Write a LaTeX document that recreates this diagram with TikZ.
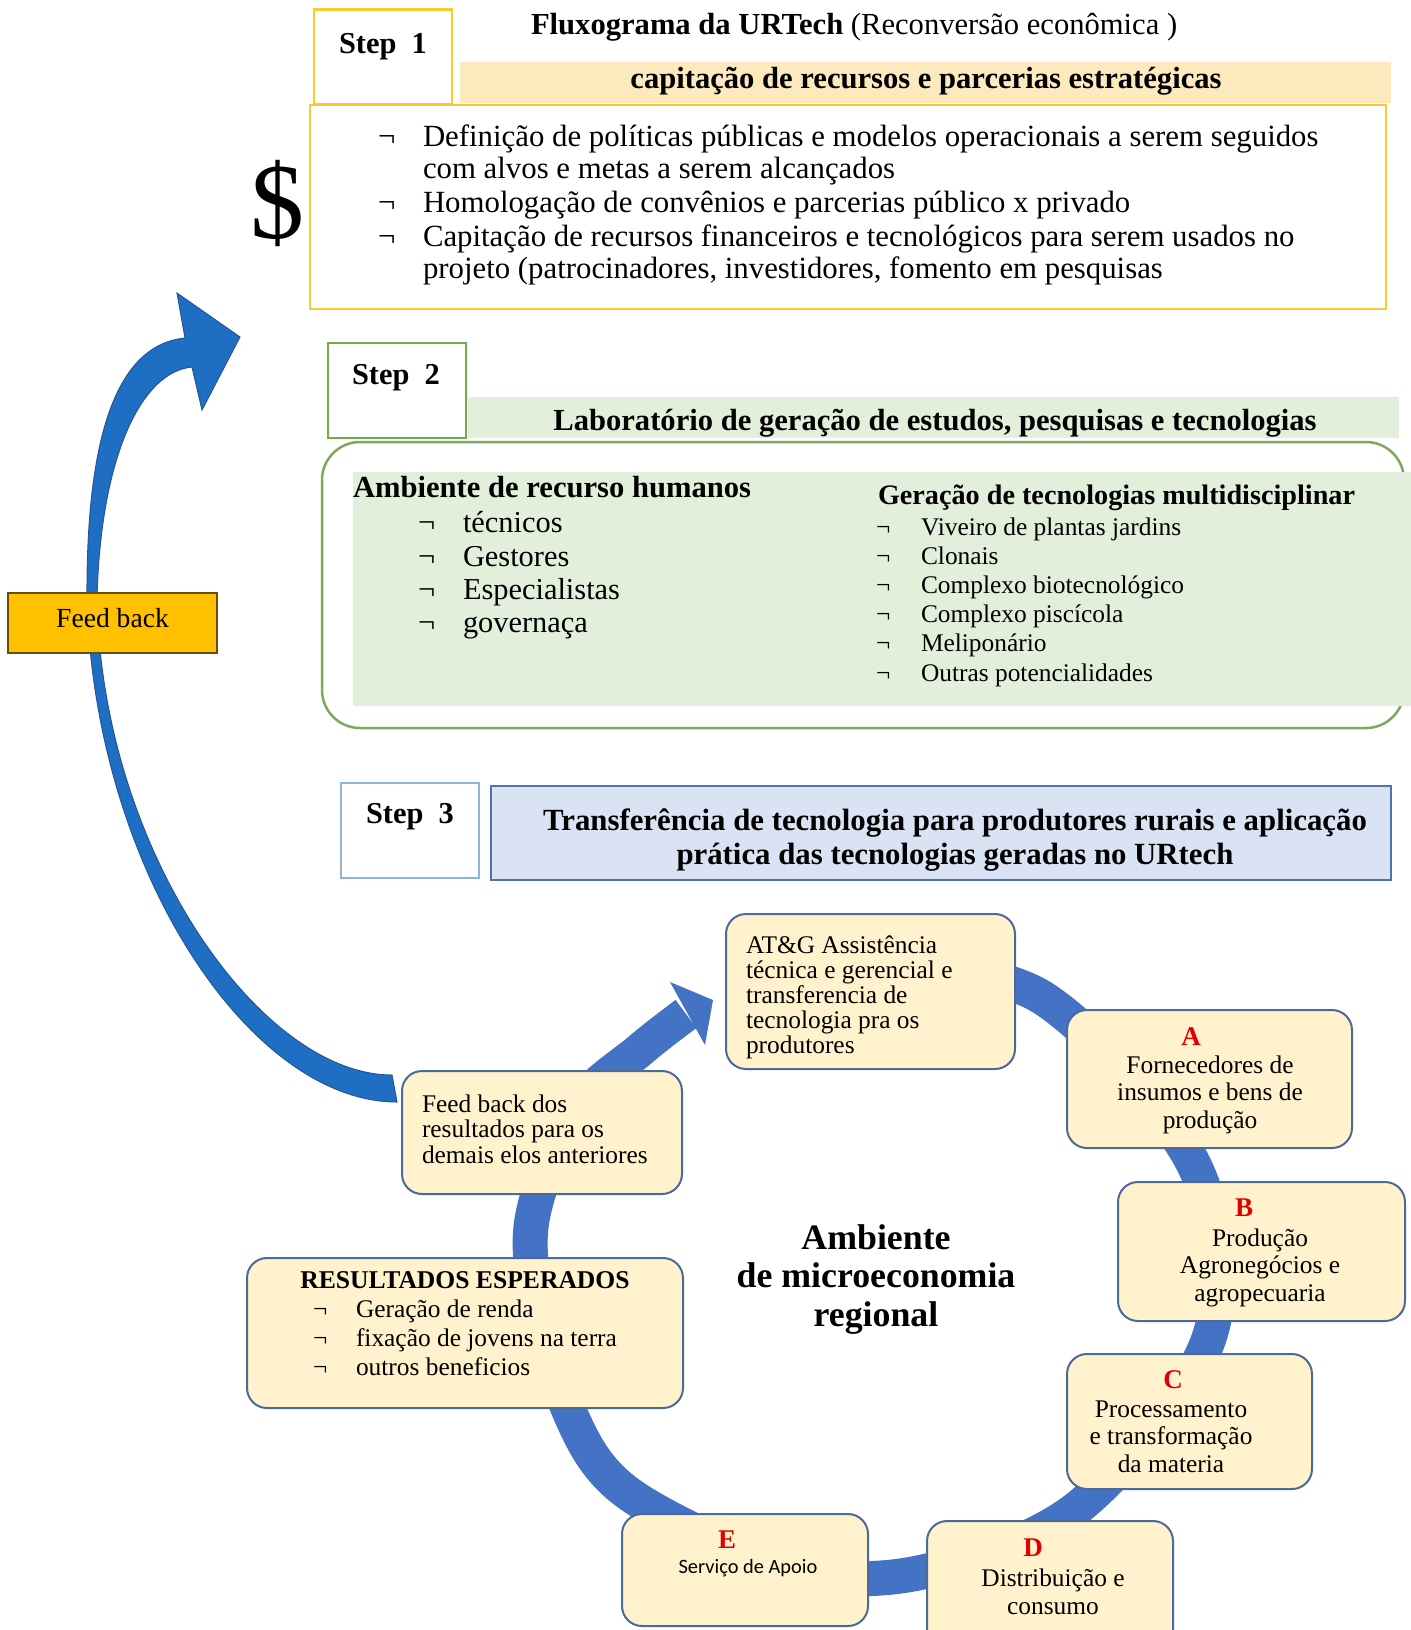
\documentclass[tikz,border=0pt]{standalone}
\usepackage{fontspec}
\setmainfont{Liberation Serif}
\newfontfamily\apoiofont{Carlito}
\usepackage{tikz}
\definecolor{stepyellow}{RGB}{255,200,50}
\definecolor{bandpeach}{RGB}{252,233,190}
\definecolor{stepgreen}{RGB}{112,173,71}
\definecolor{outlinegreen}{RGB}{125,168,95}
\definecolor{lightgreen}{RGB}{226,239,218}
\definecolor{stepblue}{RGB}{143,180,220}
\definecolor{bandblue}{RGB}{218,227,243}
\definecolor{bandedge}{RGB}{79,114,181}
\definecolor{ringblue}{RGB}{68,114,196}
\definecolor{cyclefill}{RGB}{255,242,204}
\definecolor{cycleedge}{RGB}{74,106,152}
\definecolor{fbblue}{RGB}{30,110,195}
\definecolor{fbedge}{RGB}{40,85,150}
\definecolor{labelorange}{RGB}{255,192,0}
\definecolor{labeledge}{RGB}{100,80,10}
\definecolor{letterred}{RGB}{225,0,0}

\begin{document}
\begin{tikzpicture}[x=0.5pt,y=-0.5pt,every node/.style={inner sep=0pt,outer sep=0pt},
  stepbox/.style={draw=#1,line width=1.25pt,fill=white,minimum width=69pt,minimum height=47.5pt},
  steplbl/.style={font=\fontsize{15.2}{18}\selectfont\bfseries,anchor=base west},
  band/.style={fill=#1,minimum width=465.5pt,minimum height=20.5pt},
  head/.style={font=\fontsize{15.3}{18}\selectfont\bfseries,anchor=base},
  txt/.style={font=\fontsize{15.4}{16}\selectfont,align=left,anchor=base west},
  bullet/.style={anchor=base west},
  cyclebox/.style={draw=cycleedge,line width=1pt,fill=cyclefill,rounded corners=10pt},
  cycletxt/.style={font=\fontsize{12.7}{13.75}\selectfont,align=center,anchor=base},
  letter/.style={font=\fontsize{13.5}{16}\selectfont\bfseries,text=letterred,anchor=base}]
\useasboundingbox (0,0) rectangle (1411,1630);
\fill[white] (0,0) rectangle (1411,1630);

% step 1 (multi-line nodes sit on the baseline of their last line)
\node[anchor=base west,font=\fontsize{15.3}{18}\selectfont] (title) at (531,34) {\textbf{Fluxograma da URTech} (Reconversão econômica )};
\node[stepbox=stepyellow] (step1) at (383,57) {};
\node[steplbl] (step1lbl) at (339,53) {Step\ \ 1};
\node[band=bandpeach] (band1) at (925.5,82.5) {};
\node[head] (band1txt) at (926,88) {capitação de recursos e parcerias estratégicas};
\node[draw=stepyellow,line width=1.4pt,minimum width=538pt,minimum height=102pt] (box1) at (848,207) {};
\node[font=\fontsize{54}{54}\selectfont] (dollar) at (277,203) {\$};
\foreach \y/\z/\t [count=\i] in {146/178/{Definição de políticas públicas e modelos operacionais a serem seguidos\\com alvos e metas a serem alcançados},
    212/212/{Homologação de convênios e parcerias público x privado},
    246/278/{Capitação de recursos financeiros e tecnológicos para serem usados no\\projeto (patrocinadores, investidores, fomento em pesquisas}}{
  \node[bullet,font=\fontsize{15.4}{16}\selectfont] (b1\i) at (378,\y) {¬};
  \node[txt] (it1\i) at (423,\z) {\t};
}

% step 2
\node[stepbox=stepgreen] (step2) at (397,390.5) {};
\node[steplbl] (step2lbl) at (352,384) {Step\ \ 2};
\node[band=lightgreen] (band2) at (933.5,417.5) {};
\node[head] (band2txt) at (935,430) {Laboratório de geração de estudos, pesquisas e tecnologias};
\node[draw=outlinegreen,line width=1.25pt,rounded corners=19pt,minimum width=541pt,minimum height=143pt] (box2) at (863,585) {};
\node[fill=lightgreen,minimum width=531pt,minimum height=117pt] (panel2) at (884,589) {};
\node[head,anchor=base west] (hrtitle) at (353,497) {Ambiente de recurso humanos};
\foreach \y/\t [count=\i] in {532/técnicos,566/Gestores,599/Especialistas,632/governaça}{
  \node[bullet,font=\fontsize{15.2}{18}\selectfont] (hrb\i) at (418,\y) {¬};
  \node[txt,font=\fontsize{15.2}{18}\selectfont] (hr\i) at (463,\y) {\t};
}
\node[head,anchor=base west,font=\fontsize{14.1}{16}\selectfont\bfseries] (tectitle) at (878,504) {Geração de tecnologias multidisciplinar};
\foreach \y/\t [count=\i] in {535/Viveiro de plantas jardins,564/Clonais,593/Complexo biotecnológico,622/Complexo piscícola,651/Meliponário,681/Outras potencialidades}{
  \node[bullet,font=\fontsize{12.7}{15}\selectfont] (tecb\i) at (876,\y) {¬};
  \node[txt,font=\fontsize{12.7}{15}\selectfont] (tec\i) at (921,\y) {\t};
}

% step 3
\node[stepbox=stepblue] (step3) at (410,830.5) {};
\node[steplbl] (step3lbl) at (366,823) {Step\ \ 3};
\node[draw=bandedge,line width=1.25pt,fill=bandblue,minimum width=450pt,minimum height=47pt] (band3) at (941,833) {};
\node[head,align=center,font=\fontsize{15.4}{17}\selectfont\bfseries] (band3txt) at (955,864) {Transferência de tecnologia para produtores rurais e aplicação\\prática das tecnologias geradas no URtech};

% feed back arrow
\fill[fbblue,draw=fbedge,line width=0.5pt] (397,1102) .. controls (250,1102) and (95,870) .. (87,600)
  .. controls (86,440) and (115,345) .. (185,338) -- (177,293) -- (240,337) -- (202,410) -- (192,367)
  .. controls (140,372) and (100,460) .. (97,600) .. controls (102,850) and (260,1075) .. (392,1075) -- cycle;
\node[draw=labeledge,line width=0.7pt,fill=labelorange,minimum width=104.5pt,minimum height=30pt,text depth=5pt,
  font=\fontsize{13.8}{16}\selectfont] (fblabel) at (112.5,623) {Feed back};

% ring
\draw[ringblue,line width=17.5pt] plot[smooth,tension=0.55] coordinates {(880,962) (1043,998) (1194,1165) (1209,1338)
  (1081,1505) (927,1571) (800,1572) (660,1513) (593,1457) (548,1350) (531,1227) (575,1110) (640,1050) (686,1014)};
\fill[ringblue] (670,982) -- (713,1000) -- (705,1045) -- cycle;

% cycle boxes
\node[cyclebox,minimum width=144.5pt,minimum height=77.5pt] (atg) at (870.5,991.5) {};
\node[cyclebox,minimum width=142.5pt,minimum height=69pt] (boxa) at (1209.5,1079) {};
\node[cyclebox,minimum width=143.5pt,minimum height=69.5pt] (boxb) at (1261.5,1251.5) {};
\node[cyclebox,minimum width=122.5pt,minimum height=67.5pt] (boxc) at (1189.5,1421.5) {};
\node[cyclebox,minimum width=123pt,minimum height=64.5pt] (boxd) at (1050,1585.5) {};
\node[cyclebox,minimum width=123pt,minimum height=56pt] (boxe) at (745,1570) {};
\node[cyclebox,minimum width=218pt,minimum height=75pt] (res) at (465,1333) {};
\node[cyclebox,minimum width=140pt,minimum height=61.5pt] (fbk) at (542,1132.5) {};

\node[cycletxt,align=left,anchor=base west,font=\fontsize{12.7}{12.5}\selectfont] (atgtxt) at (746,1053) {AT\&G Assistência\\técnica e gerencial e\\transferencia de\\tecnologia pra os\\produtores};
\node[letter] (la) at (1191,1045) {A};
\node[cycletxt] (atxt) at (1210,1128) {Fornecedores de\\insumos e bens de\\produção};
\node[letter] (lb) at (1244,1216) {B};
\node[cycletxt] (btxt) at (1260,1301) {Produção\\Agronegócios e\\agropecuaria};
\node[letter] (lc) at (1173,1388) {C};
\node[cycletxt] (ctxt) at (1171,1472) {Processamento\\e transformação\\da materia};
\node[letter] (ld) at (1033,1556) {D};
\node[cycletxt] (dtxt) at (1053,1614) {Distribuição e\\consumo};
\node[letter] (le) at (727,1548) {E};
\node[anchor=base,font=\apoiofont\fontsize{10.2}{12}\selectfont] (etxt) at (748,1573) {Serviço de Apoio};
\node[cycletxt,align=left,anchor=base west,font=\fontsize{12.7}{12.75}\selectfont] (fbktxt) at (422,1163) {Feed back dos\\resultados para os\\demais elos anteriores};
\node[anchor=base,font=\fontsize{12.8}{14}\selectfont\bfseries] (restitle) at (465,1288) {RESULTADOS ESPERADOS};
\foreach \y/\t [count=\i] in {1317/Geração de renda,1346/fixação de jovens na terra,1375/outros beneficios}{
  \node[bullet,font=\fontsize{12.7}{14}\selectfont] (resb\i) at (313,\y) {¬};
  \node[txt,font=\fontsize{12.7}{14}\selectfont] (res\i) at (356,\y) {\t};
}
\node[anchor=base,align=center,font=\fontsize{17.9}{19.25}\selectfont\bfseries] (micro) at (876,1326) {Ambiente\\de microeconomia\\regional};
\end{tikzpicture}
\end{document}
